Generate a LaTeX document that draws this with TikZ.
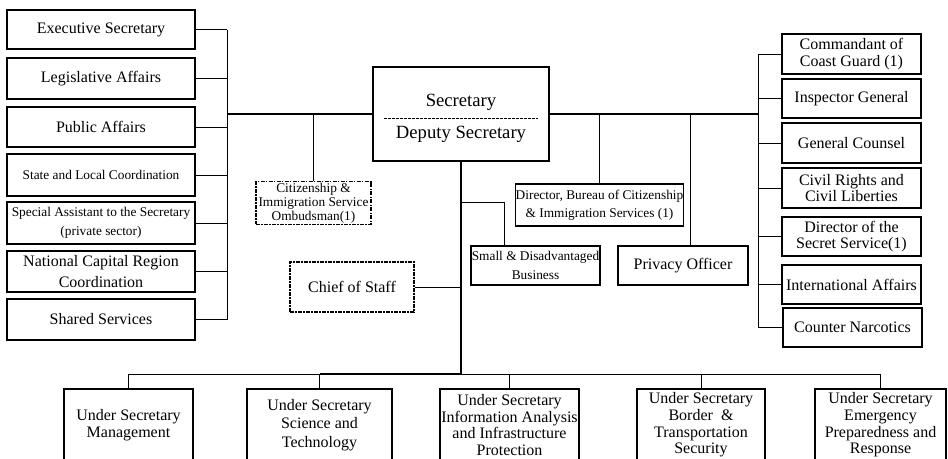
\documentclass[tikz,border=0pt]{standalone}
\usepackage{fontspec}
\setmainfont{Liberation Serif}

\tikzset{
    sz/.style 2 args={minimum width=#1*0.75pt, minimum height=#2*0.75pt},
    box/.style={draw, line width=0.8pt, align=center, inner xsep=0.5pt, inner ysep=1pt, font=\fontsize{12}{12.5}\selectfont},
    smallbox/.style={box, font=\fontsize{10}{12}\selectfont},
    dashbox/.style={smallbox, dash pattern=on 3pt off 1pt on 1pt off 1pt},
    link/.style={line width=0.7pt},
    trunk/.style={line width=1.5pt},
}

\begin{document}
\begin{tikzpicture}[x=0.75pt, y=-0.75pt]
    \useasboundingbox (0,0) rectangle (948,458);

    % secretary
    \node[box, sz={176}{94}] (sec) at (461,114) {};
    \node[font=\fontsize{14}{14}\selectfont] (sectop) at (461,102) {Secretary};
    \node[font=\fontsize{14}{14}\selectfont] (secdep) at (461,134) {Deputy Secretary};
    \draw[dash pattern=on 2pt off 1pt, line width=0.5pt] (384,118) -- (538,118);

    % left column
    \node[box, sz={188}{39}] (exec) at (101,29.5) {Executive Secretary};
    \node[box, sz={188}{41}] (legis) at (101,78.5) {Legislative Affairs};
    \node[box, sz={188}{40}] (pubaff) at (101,127) {Public Affairs};
    \node[smallbox, sz={188}{42}] (stloc) at (101,175) {State and Local Coordination};
    \node[smallbox, sz={188}{42}, font=\fontsize{10}{14}\selectfont] (spasst) at (101,223) {Special Assistant to the Secretary\\(private sector)};
    \node[box, sz={188}{41}, font=\fontsize{12}{16}\selectfont] (natcap) at (101,271.5) {National Capital Region\\Coordination};
    \node[box, sz={188}{41}] (shared) at (101,319.5) {Shared Services};
    \coordinate (ltop) at (227,29.5);
    \coordinate (lbot) at (227,319.5);
    \draw[link] (ltop) -- (lbot);
    \foreach \n in {exec,legis,pubaff,stloc,spasst,natcap,shared}
        \draw[link] (\n.east) -- (\n.east -| ltop);

    % right column
    \node[box, sz={139}{40}] (coast) at (851.5,54) {Commandant of\\Coast Guard (1)};
    \node[box, sz={139}{39}] (insp) at (851.5,98.5) {Inspector General};
    \node[box, sz={139}{40}] (couns) at (851.5,143) {General Counsel};
    \node[box, sz={139}{40}] (civil) at (851.5,188) {Civil Rights and\\Civil Liberties};
    \node[box, sz={139}{39}] (secsvc) at (851.5,236.5) {Director of the\\Secret Service(1)};
    \node[box, sz={139}{39}] (intl) at (851.5,284.5) {International Affairs};
    \node[box, sz={139}{39}] (narc) at (852.5,327.5) {Counter Narcotics};
    \coordinate (rtop) at (758,54);
    \coordinate (rbot) at (758,327.5);
    \draw[link] (rtop) -- (rbot);
    \foreach \n in {coast,insp,couns,civil,secsvc,intl,narc}
        \draw[link] (\n.west) -- (\n.west -| rtop);

    % main line
    \draw[trunk] (ltop |- sec.west) -- (sec.west);
    \draw[trunk] (sec.east) -- (sec.east -| rtop);

    % staff offices
    \node[dashbox, sz={115}{40}, font=\fontsize{10}{10.5}\selectfont] (omb) at (313.5,203) {Citizenship \&\\Immigration Service\\Ombudsman(1)};
    \node[dashbox, sz={124}{50}, font=\fontsize{12}{12.5}\selectfont] (cos) at (352,287) {Chief of Staff};
    \node[smallbox, sz={129}{39}, font=\fontsize{10}{14}\selectfont] (sdb) at (535.5,265.5) {Small \& Disadvantaged\\Business};
    \node[smallbox, sz={165}{42}, font=\fontsize{10}{13.5}\selectfont] (cis) at (599.5,205) {Director, Bureau of Citizenship\\\& Immigration Services (1)};
    \node[box, sz={130}{39}] (priv) at (683,265.5) {Privacy Officer};
    \coordinate (sdbbend) at (504,202);
    \coordinate (privtop) at (690,246);
    \draw[link] (omb.north) -- (omb.north |- sec.west);
    \draw[link] (cis.north) -- (cis.north |- sec.east);
    \draw[link] (privtop) -- (privtop |- sec.east);
    \draw[link] (cos.east) -- (cos.east -| sec.south);
    \draw[link] (sec.south |- sdbbend) -- (sdbbend) -- (sdbbend |- sdb.north);

    % under secretaries
    \node[box, sz={129}{72}] (usm) at (128.5,425) {Under Secretary\\Management};
    \node[box, sz={145}{72}, font=\fontsize{12}{14}\selectfont] (ust) at (319.5,425) {Under Secretary\\Science and\\Technology};
    \node[box, sz={139}{72}] (usia) at (509.5,425) {Under Secretary\\Information Analysis\\and Infrastructure\\Protection};
    \node[box, sz={128}{72}] (usbt) at (701,425) {Under Secretary\\Border~~\&\\Transportation\\Security};
    \node[box, sz={131}{72}] (usep) at (880.5,425) {Under Secretary\\Emergency\\Preparedness and\\Response};
    \coordinate (bus) at (461,374);
    \draw[trunk] (sec.south) -- (bus) -- (bus -| ust.north);
    \draw[link] (usm.north) |- (bus -| ust.north);
    \draw[link] (ust.north) -- (ust.north |- bus);
    \draw[link] (bus) -| (usia.north);
    \draw[link] (bus) -| (usbt.north);
    \draw[link] (bus) -| (usep.north);
\end{tikzpicture}
\end{document}
